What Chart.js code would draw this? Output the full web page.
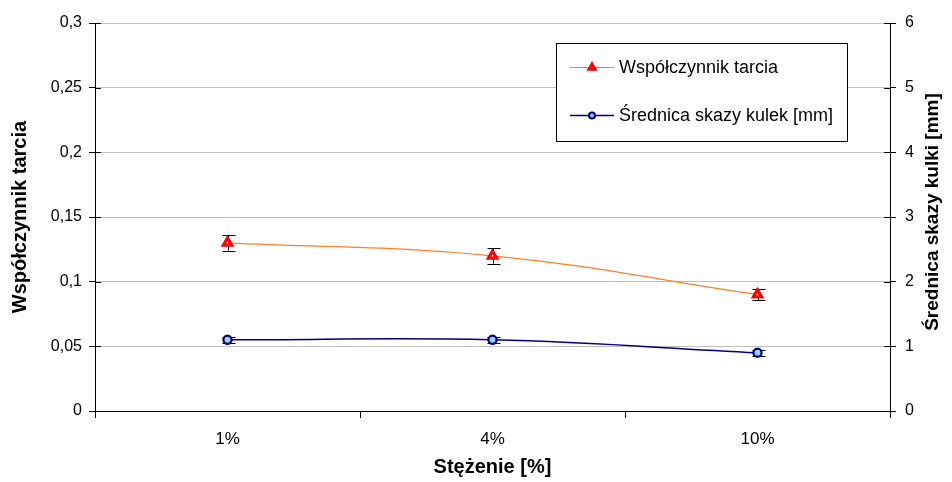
<!DOCTYPE html>
<html>
<head>
<meta charset="utf-8">
<script src="https://cdn.jsdelivr.net/npm/chart.js@4.4.1/dist/chart.umd.min.js"></script>
<style>
  html, body { margin: 0; padding: 0; background: #fff; }
  #wrap { width: 952px; height: 482px; position: relative; }
</style>
</head>
<body>
<div id="wrap"><canvas id="chart"></canvas></div>
<script>
// Data
const categories = ['1%', '4%', '10%'];
const frictionLabel = 'Współczynnik tarcia';
const frictionValues = [0.13, 0.12, 0.09];
const frictionErrors = [0.006, 0.006, 0.0045];
const scarLabel = 'Średnica skazy kulek [mm]';
const scarValues = [1.1, 1.1, 0.9];
const scarErrors = [0.05, 0.05, 0.05];
const rightAxisTitle = 'Średnica skazy kulki [mm]';

const FONT = "'Liberation Sans', Arial, sans-serif";

// Formats numbers with a decimal comma (Polish style)
function commaNum(v) {
    return String(Math.round(v * 1000) / 1000).replace('.', ',');
}

// Draws vertical error bars with caps for every dataset that has `errors`
const errorBarPlugin = {
    id: 'errorBars',
    afterDatasetsDraw(chart) {
        const ctx = chart.ctx;
        chart.data.datasets.forEach((ds, i) => {
            if (!ds.errors) return;
            const meta = chart.getDatasetMeta(i);
            const yScale = chart.scales[ds.yAxisID];
            ctx.save();
            ctx.strokeStyle = '#000';
            ctx.lineWidth = 1;
            meta.data.forEach((pt, j) => {
                const top = yScale.getPixelForValue(ds.data[j] + ds.errors[j]);
                const bot = yScale.getPixelForValue(ds.data[j] - ds.errors[j]);
                const x = Math.round(pt.x) + 0.5;
                ctx.beginPath();
                ctx.moveTo(x, top); ctx.lineTo(x, bot);
                ctx.moveTo(x - 6, Math.round(top) + 0.5); ctx.lineTo(x + 7, Math.round(top) + 0.5);
                ctx.moveTo(x - 6, Math.round(bot) + 0.5); ctx.lineTo(x + 7, Math.round(bot) + 0.5);
                ctx.stroke();
            });
            ctx.restore();
            // redraw markers over the bars
            meta.data.forEach(pt => pt.draw(ctx, chart.chartArea));
        });
    }
};

// Tick marks crossing into the plot area (Excel "cross" ticks)
const crossTickPlugin = {
    id: 'crossTicks',
    afterDraw(chart) {
        const ctx = chart.ctx;
        ctx.save();
        ctx.strokeStyle = '#000';
        ctx.lineWidth = 1;
        ['y', 'y1'].forEach(id => {
            const s = chart.scales[id];
            const dir = s.position === 'left' ? 1 : -1;
            const edge = s.position === 'left' ? s.right : s.left;
            s.ticks.forEach(t => {
                const y = Math.round(s.getPixelForValue(t.value)) + 0.5;
                ctx.beginPath();
                ctx.moveTo(edge, y); ctx.lineTo(edge + dir * 6, y);
                ctx.stroke();
            });
        });
        ctx.restore();
    }
};

// Right axis title, read bottom-to-top like the Excel original
const rightTitlePlugin = {
    id: 'rightTitle',
    afterDraw(chart) {
        const ctx = chart.ctx;
        const area = chart.chartArea;
        ctx.save();
        ctx.translate(chart.width - 19, (area.top + area.bottom) / 2 - 5);
        ctx.rotate(-Math.PI / 2);
        ctx.font = 'bold 19px ' + FONT;
        ctx.fillStyle = '#000';
        ctx.textAlign = 'center';
        ctx.textBaseline = 'middle';
        ctx.fillText(rightAxisTitle, 0, 0);
        ctx.restore();
    }
};

// Boxed legend inside the plot area, top right
const boxLegendPlugin = {
    id: 'boxLegend',
    afterDraw(chart) {
        const ctx = chart.ctx;
        const area = chart.chartArea;
        const w = 291, h = 98;
        const x0 = area.right - 43 - w, y0 = area.top + 20;
        ctx.save();
        ctx.fillStyle = '#fff';
        ctx.fillRect(x0, y0, w, h);
        ctx.strokeStyle = '#000';
        ctx.lineWidth = 1;
        ctx.strokeRect(x0 + 0.5, y0 + 0.5, w, h);
        ctx.font = '18px ' + FONT;
        ctx.textBaseline = 'middle';
        chart.data.datasets.forEach((ds, i) => {
            const y = y0 + 24 + i * 48;
            ctx.strokeStyle = ds.borderColor;
            ctx.lineWidth = ds.borderWidth;
            ctx.beginPath();
            ctx.moveTo(x0 + 14, y + 0.5); ctx.lineTo(x0 + 58, y + 0.5);
            ctx.stroke();
            ctx.fillStyle = ds.pointBackgroundColor;
            ctx.strokeStyle = ds.pointBorderColor;
            ctx.lineWidth = ds.pointBorderWidth;
            Chart.helpers.drawPoint(ctx, {
                pointStyle: ds.pointStyle,
                radius: ds.pointRadius - 1,
                borderWidth: ds.pointBorderWidth,
                rotation: 0
            }, x0 + 36, y + 0.5);
            ctx.fillStyle = '#000';
            ctx.fillText(ds.label, x0 + 63, y + 1);
        });
        ctx.restore();
    }
};

new Chart(document.getElementById('chart'), {
    type: 'line',
    data: {
        labels: categories,
        datasets: [{
            label: frictionLabel,
            data: frictionValues,
            errors: frictionErrors,
            yAxisID: 'y',
            borderColor: '#ff7f27',
            borderWidth: 1.2,
            tension: 0.4,
            pointStyle: 'triangle',
            pointRadius: 4.5,
            pointBorderWidth: 3,
            pointBorderColor: '#ff0000',
            pointBackgroundColor: '#ffffff'
        }, {
            label: scarLabel,
            data: scarValues,
            errors: scarErrors,
            yAxisID: 'y1',
            borderColor: '#000080',
            borderWidth: 1.5,
            tension: 0.4,
            pointStyle: 'circle',
            pointRadius: 4,
            pointBorderWidth: 2,
            pointBorderColor: '#000080',
            pointBackgroundColor: '#99ccff'
        }]
    },
    options: {
        responsive: true,
        maintainAspectRatio: false,
        animation: false,
        layout: { padding: { top: 23, left: 0, right: 0, bottom: 0 } },
        plugins: {
            legend: { display: false },
            tooltip: { enabled: false }
        },
        scales: {
            x: {
                offset: true,
                afterFit: s => { s.height = 71; },
                border: { color: '#000', width: 1 },
                grid: { offset: true, drawOnChartArea: false, tickLength: 7, color: '#000' },
                ticks: { color: '#000', font: { family: FONT, size: 17 }, padding: 11 },
                title: {
                    display: true, text: 'Stężenie [%]', color: '#000',
                    font: { family: FONT, size: 20, weight: 'bold' },
                    padding: { top: 0, bottom: 3 }
                }
            },
            y: {
                position: 'left',
                min: 0, max: 0.3,
                afterFit: s => { s.width = 95; },
                border: { color: '#000', width: 1 },
                grid: { color: '#c0c0c0', tickColor: '#000', tickLength: 6 },
                ticks: { stepSize: 0.05, color: '#000', font: { family: FONT, size: 16 }, padding: 7, callback: commaNum },
                title: {
                    display: true, text: frictionLabel, color: '#000',
                    font: { family: FONT, size: 20, weight: 'bold' },
                    padding: { top: 8, bottom: 0 }
                }
            },
            y1: {
                position: 'right',
                min: 0, max: 6,
                afterFit: s => { s.width = 62; },
                border: { color: '#000', width: 1 },
                grid: { drawOnChartArea: false, color: '#000', tickLength: 6 },
                ticks: { stepSize: 1, color: '#000', font: { family: FONT, size: 16 }, padding: 9 },
                title: { display: false }
            }
        }
    },
    plugins: [errorBarPlugin, crossTickPlugin, rightTitlePlugin, boxLegendPlugin]
});
</script>
</body>
</html>
